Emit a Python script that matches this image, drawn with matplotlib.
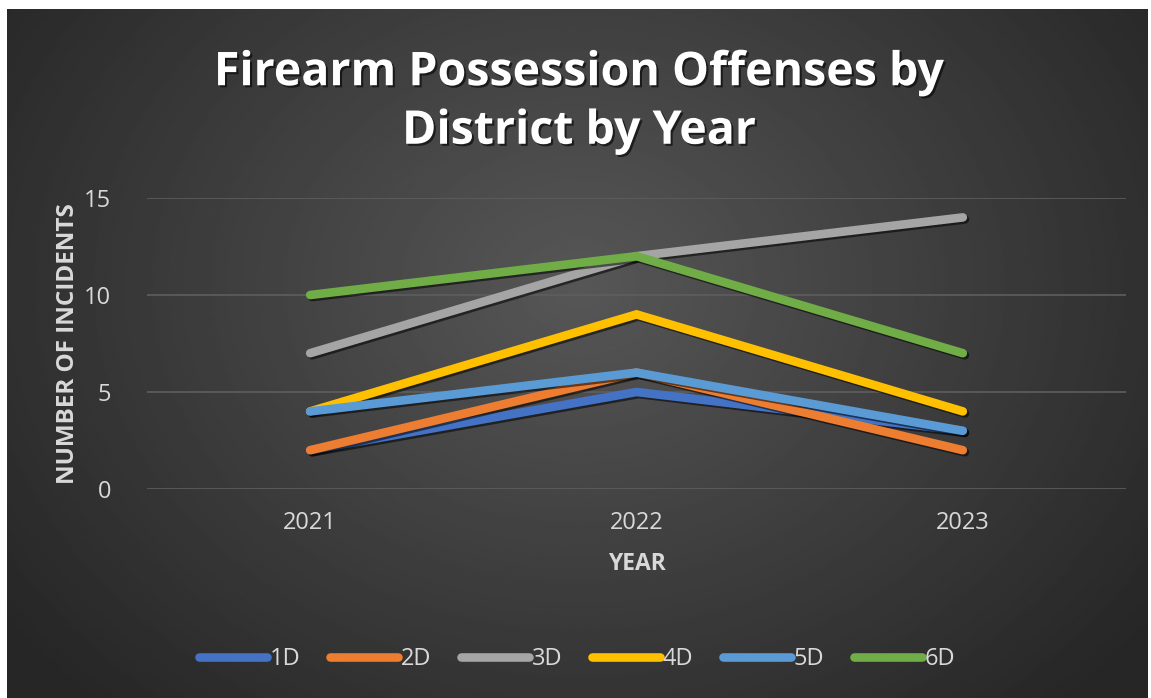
import numpy as np
import matplotlib
matplotlib.use("Agg")
import matplotlib.pyplot as plt
import matplotlib.patheffects as pe

# data
years = ["2021", "2022", "2023"]
districts = ["1D", "2D", "3D", "4D", "5D", "6D"]
d1 = [2, 5, 3]
d2 = [2, 6, 2]
d3 = [7, 12, 14]
d4 = [4, 9, 4]
d5 = [4, 6, 3]
d6 = [10, 12, 7]
colors = ["#4472C4", "#ED7D31", "#A5A5A5", "#FFC000", "#5B9BD5", "#70AD47"]

plt.rcParams["font.family"] = ["Open Sans", "DejaVu Sans"]

W, H = 1151, 698
fig = plt.figure(figsize=(W / 100, H / 100), dpi=100, facecolor="white")

# dark radial gradient background (excel style)
bg = fig.add_axes([7 / W, 0, (1148 - 7) / W, (H - 9) / H], zorder=0)
yy, xx = np.mgrid[0:300, 0:500]
r = np.sqrt(((xx - 250) / 250) ** 2 + ((yy - 120) / 200) ** 2)
r = np.clip(r / 1.25, 0, 1)
shade = 0.34 - 0.19 * r
bg.imshow(shade, cmap="gray", vmin=0, vmax=1, aspect="auto", interpolation="bilinear")
bg.axis("off")

ax = fig.add_axes([147 / W, (H - 489) / H, (1126 - 147) / W, (489 - 198) / H], zorder=1)
ax.set_facecolor("none")

x = np.arange(len(years))
lw = 6.2
shadow = [pe.SimpleLineShadow(offset=(1.5, -1.5), shadow_color="black", alpha=0.55), pe.Normal()]
for name, vals, c in zip(districts, [d1, d2, d3, d4, d5, d6], colors):
    ax.plot(x, vals, color=c, lw=lw, solid_capstyle="round", solid_joinstyle="miter",
            label=name, path_effects=shadow)

ax.set_xlim(-0.5, 2.5)
ax.set_ylim(0, 15)
ax.set_yticks([0, 5, 10, 15])
ax.set_xticks(x)
ax.set_xticklabels(years)
ax.yaxis.grid(True, color="#5E5E5E", lw=1.2)
ax.set_axisbelow(True)
for s in ax.spines.values():
    s.set_visible(False)
ax.tick_params(length=0, colors="#D9D9D9", labelsize=17)
ax.tick_params(axis="y", pad=26)
ax.tick_params(axis="x", pad=16)

ax.set_xlabel("YEAR", color="#D9D9D9", fontsize=16.5, fontweight="bold", labelpad=12)
ax.set_ylabel("NUMBER OF INCIDENTS", color="#D9D9D9", fontsize=17.5, fontweight="bold", labelpad=3)

fig.text(579 / W, 1 - 102 / H, "Firearm Possession Offenses by\nDistrict by Year",
         ha="center", va="center", color="white", fontsize=33.5, fontweight="bold",
         linespacing=1.32,
         path_effects=[pe.withSimplePatchShadow(offset=(1.5, -1.5), shadow_rgbFace="black", alpha=0.6)])

leg = fig.legend(loc="center", bbox_to_anchor=(577 / W, 1 - 659 / H), ncol=6, frameon=False,
                 fontsize=17, handlelength=2.9, handletextpad=0.1, columnspacing=1.25)
for t in leg.get_texts():
    t.set_color("#D9D9D9")
for h in leg.get_lines():
    h.set_linewidth(lw)
    h.set_solid_capstyle("round")
    h.set_path_effects([])

fig.savefig("out.png", dpi=100, facecolor="white")
